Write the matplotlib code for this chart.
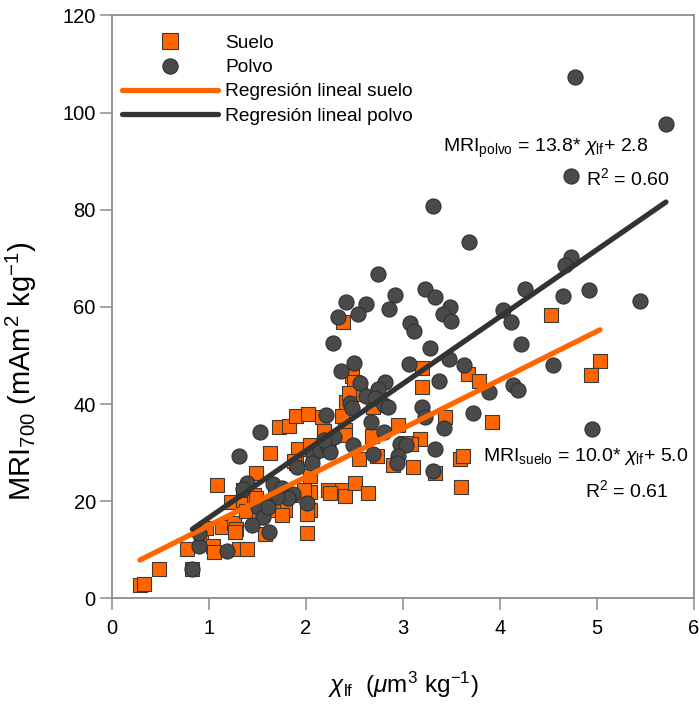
import numpy as np
import matplotlib
matplotlib.use("Agg")
import matplotlib.pyplot as plt
from matplotlib.lines import Line2D

plt.rcParams['font.family'] = ['Liberation Sans', 'DejaVu Sans']
plt.rcParams['mathtext.fontset'] = 'custom'
plt.rcParams['mathtext.rm'] = 'Liberation Sans'
plt.rcParams['mathtext.it'] = 'Liberation Sans:italic'

# suelo (soil) samples: chi_lf, MRI700
suelo_x = [0.29, 0.33, 0.49, 0.83, 0.77, 0.92, 0.97, 1.04, 1.05, 1.31, 1.39, 1.08, 1.13, 1.26,
           1.28, 1.27, 1.23, 1.35, 1.49, 1.38, 1.52, 1.76, 1.78, 1.66, 1.75, 1.35, 1.47, 1.49,
           1.58, 1.96, 2.04, 2.01, 2.01, 2.04, 1.98, 2.04, 1.90, 1.92, 2.23, 2.37, 2.40, 2.25,
           2.51, 2.64, 1.63, 1.72, 1.83, 1.90, 2.02, 2.17, 2.37, 2.41, 2.47, 2.50, 2.56, 2.69,
           2.19, 2.40, 2.40, 2.04, 2.68, 2.55, 2.73, 2.38, 3.20, 3.20, 3.67, 3.78, 3.92, 3.43,
           2.95, 3.18, 3.08, 3.02, 3.10, 2.90, 3.33, 3.59, 3.62, 3.60, 4.53, 5.03, 4.94, 1.61,
           1.68, 1.88, 2.44]
suelo_y = [2.8, 3.0, 6.0, 6.0, 10.2, 12.0, 14.4, 10.8, 9.6, 10.2, 10.2, 23.4, 14.6, 15.6,
           14.2, 13.7, 19.9, 20.3, 25.8, 17.9, 16.8, 18.9, 18.2, 18.2, 17.2, 22.3, 21.3, 20.6,
           13.3, 21.3, 18.2, 13.4, 17.4, 22.0, 22.3, 25.2, 27.8, 30.8, 22.3, 22.3, 21.1, 21.6,
           23.7, 21.8, 29.9, 35.2, 35.5, 37.5, 38.0, 37.4, 37.6, 40.5, 45.8, 44.6, 42.0, 39.5,
           34.4, 34.6, 33.6, 31.6, 33.5, 28.6, 29.4, 56.8, 47.5, 43.5, 46.1, 44.8, 36.4, 37.4,
           35.6, 32.8, 31.7, 31.9, 27.1, 27.5, 25.8, 28.8, 29.3, 23.0, 58.3, 48.9, 46.0, 19.6,
           21.3, 28.2, 42.2]

# polvo (dust) samples
polvo_x = [4.77, 5.71, 4.73, 3.31, 3.68, 2.74, 4.73, 4.67, 4.26, 4.92, 5.44, 4.65, 4.03, 4.11,
           3.23, 3.33, 3.48, 3.41, 3.50, 2.92, 2.86, 2.41, 2.62, 2.54, 2.33, 3.07, 3.11, 2.28,
           3.28, 4.22, 3.47, 3.63, 4.55, 3.06, 2.50, 2.36, 3.37, 2.81, 2.74, 2.56, 2.62, 2.71,
           2.80, 2.85, 2.45, 2.47, 3.89, 4.13, 4.19, 3.72, 3.20, 3.23, 3.42, 4.95, 2.21, 2.67,
           2.80, 3.33, 2.97, 3.03, 2.95, 2.94, 2.69, 2.49, 3.31, 1.53, 1.31, 2.07, 2.06, 2.14,
           2.23, 2.25, 2.29, 2.19, 1.91, 1.66, 1.75, 1.39, 1.35, 1.87, 1.82, 1.70, 2.01, 1.58,
           1.51, 1.56, 1.61, 1.44, 1.62, 1.19, 0.90, 0.90, 0.83]
polvo_y = [107.3, 97.6, 86.9, 80.8, 73.4, 66.8, 70.3, 68.6, 63.6, 63.5, 61.3, 62.2, 59.3, 56.8,
           63.6, 62.1, 60.0, 58.6, 57.2, 62.4, 59.5, 61.1, 60.6, 58.6, 57.9, 56.7, 55.0, 52.6,
           51.5, 52.4, 49.2, 48.0, 48.0, 48.2, 48.4, 46.8, 44.8, 44.6, 43.1, 44.3, 41.7, 41.2,
           39.8, 39.5, 40.3, 39.1, 42.4, 43.9, 42.9, 38.1, 39.3, 37.4, 35.0, 34.8, 37.7, 36.4,
           34.2, 30.7, 31.8, 31.6, 29.3, 27.8, 29.7, 31.6, 26.3, 34.3, 29.4, 29.5, 27.9, 30.6,
           31.1, 30.2, 33.2, 32.6, 27.1, 23.5, 22.7, 23.7, 22.5, 21.4, 20.6, 20.8, 19.6, 19.6,
           18.9, 16.7, 18.8, 15.1, 13.7, 9.8, 10.7, 13.4, 6.0]

# regression coefficients shown on the chart
slope_suelo, icpt_suelo, r2_suelo = 10.0, 5.0, 0.61
slope_polvo, icpt_polvo, r2_polvo = 13.8, 2.8, 0.60

orange = '#ff6600'
dark = '#4a4a4a'
spine_gray = '#8c8c8c'

fig = plt.figure(figsize=(6.99, 7.04), dpi=100)
ax = fig.add_axes([0.160, 0.150, 0.833, 0.828])

ax.scatter(suelo_x, suelo_y, marker='s', s=110, c=orange, edgecolors='#3a3a3a',
           linewidths=0.8, zorder=2)
ax.scatter(polvo_x, polvo_y, marker='o', s=118, c=dark, edgecolors='#303030',
           linewidths=0.8, zorder=3)

xs = np.array([min(suelo_x), max(suelo_x)])
xp = np.array([min(polvo_x), max(polvo_x)])
ax.plot(xs, slope_suelo * xs + icpt_suelo, color=orange, lw=3.8, solid_capstyle='round', zorder=4)
ax.plot(xp, slope_polvo * xp + icpt_polvo, color='#333333', lw=3.8, solid_capstyle='round', zorder=4)

ax.set_xlim(0, 6)
ax.set_ylim(0, 120)
ax.set_xticks(range(0, 7))
ax.set_yticks(range(0, 121, 20))
for s in ax.spines.values():
    s.set_color(spine_gray)
    s.set_linewidth(1.3)
ax.tick_params(direction='out', length=8.5, width=1.1, color=spine_gray, labelsize=14.5)
ax.tick_params(axis='x', pad=6)
ax.tick_params(axis='y', pad=3)

ax.set_xlabel(r'$\chi_{\rm lf}$  ($\mu$m$^3$ kg$^{-1}$)', fontsize=17.5)
ax.xaxis.set_label_coords(0.5, -0.122)
ax.set_ylabel(r'MRI$_{700}$ (mAm$^2$ kg$^{-1}$)', fontsize=21)
ax.yaxis.set_label_coords(-0.125, 0.39)

ax.text(3.41, 92.7, r'MRI$_{\rm polvo}$ = 13.8* $\chi_{\rm lf}$+ 2.8', fontsize=14, va='center')
ax.text(4.89, 86.5, r'R$^2$ = %.2f' % r2_polvo, fontsize=14, va='center')
ax.text(3.82, 29.3, r'MRI$_{\rm suelo}$ = 10.0* $\chi_{\rm lf}$+ 5.0', fontsize=14, va='center')
ax.text(4.88, 22.3, r'R$^2$ = %.2f' % r2_suelo, fontsize=14, va='center')

handles = [
    Line2D([], [], marker='s', ls='none', ms=11, mfc=orange, mec='#3a3a3a', mew=0.8),
    Line2D([], [], marker='o', ls='none', ms=11, mfc=dark, mec='#303030', mew=0.8),
    Line2D([], [], color=orange, lw=3.8, solid_capstyle='round'),
    Line2D([], [], color='#333333', lw=3.8, solid_capstyle='round'),
]
labels = ['Suelo', 'Polvo', 'Regresión lineal suelo', 'Regresión lineal polvo']
ax.legend(handles, labels, loc='upper left', bbox_to_anchor=(0.017, 0.967), frameon=False,
          fontsize=13.8, handlelength=5.0, handletextpad=0.4, labelspacing=0.35,
          borderpad=0, borderaxespad=0, numpoints=1)

fig.savefig('out.png', dpi=100)
